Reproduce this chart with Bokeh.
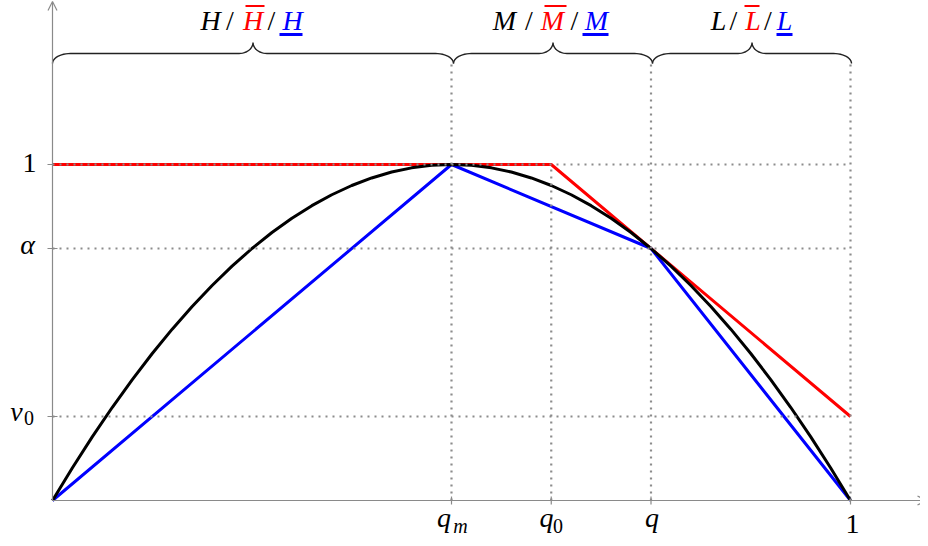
import math
from bokeh.plotting import figure
from bokeh.models import Range1d, Arrow, OpenHead
from bokeh.core.properties import value
from bokeh.embed import file_html
from bokeh.resources import INLINE

# ---- data ----
qm = 0.5      # q_m
q0 = 0.625    # q_0
q = 0.75      # q
alpha = 0.75  # alpha
v0 = 0.25     # v_0

curve_x = [0.000, 0.025, 0.050, 0.075, 0.100, 0.125, 0.150, 0.175, 0.200, 0.225,
           0.250, 0.275, 0.300, 0.325, 0.350, 0.375, 0.400, 0.425, 0.450, 0.475,
           0.500, 0.525, 0.550, 0.575, 0.600, 0.625, 0.650, 0.675, 0.700, 0.725,
           0.750, 0.775, 0.800, 0.825, 0.850, 0.875, 0.900, 0.925, 0.950, 0.975, 1.000]
curve_y = [0.000, 0.0975, 0.190, 0.2775, 0.360, 0.4375, 0.510, 0.5775, 0.640, 0.6975,
           0.750, 0.7975, 0.840, 0.8775, 0.910, 0.9375, 0.960, 0.9775, 0.990, 0.9975,
           1.000, 0.9975, 0.990, 0.9775, 0.960, 0.9375, 0.910, 0.8775, 0.840, 0.7975,
           0.750, 0.6975, 0.640, 0.5775, 0.510, 0.4375, 0.360, 0.2775, 0.190, 0.0975, 0.000]

red_x = [0.0, q0, 1.0]
red_y = [1.0, 1.0, v0]

blue_x = [0.0, qm, q, 1.0]
blue_y = [0.0, 1.0, alpha, 0.0]

# ---- page-pixel helpers (layout only) ----
def X(px):
    return (px - 52) / 798.0

def Y(py):
    return (500 - py) / 336.0

W, H = 920, 540
p = figure(width=W, height=H, output_backend="svg", toolbar_location=None,
           x_range=Range1d(X(0), X(W)), y_range=Range1d(Y(H), Y(0)),
           x_axis_location=None, y_axis_location=None,
           min_border=0, min_border_left=0, min_border_right=0,
           min_border_top=0, min_border_bottom=0)
p.outline_line_color = None
p.xgrid.visible = False
p.ygrid.visible = False
p.background_fill_color = "white"
p.border_fill_color = "white"

AX = "#8a8a8a"
FONT = value("serif")

# axes with arrows
p.add_layout(Arrow(end=OpenHead(size=9, line_color=AX, line_width=1.2),
                   x_start=0, y_start=0, x_end=X(926), y_end=0,
                   line_color=AX, line_width=1.2))
p.add_layout(Arrow(end=OpenHead(size=9, line_color=AX, line_width=1.2),
                   x_start=0, y_start=0, x_end=0, y_end=Y(1),
                   line_color=AX, line_width=1.2))

# tick marks
xt = [qm, q0, q, 1.0]
p.segment(x0=xt, y0=[Y(504)] * 4, x1=xt, y1=[Y(496)] * 4, line_color=AX, line_width=1.2)
yt = [1.0, alpha, v0]
p.segment(x0=[X(47)] * 3, y0=yt, x1=[X(57)] * 3, y1=yt, line_color=AX, line_width=1.2)

# curves
p.line(red_x, red_y, line_color="#ff0000", line_width=3)
p.line(blue_x, blue_y, line_color="#0000ff", line_width=3)
p.line(curve_x, curve_y, line_color="#000000", line_width=3)

# dotted guide lines
top = Y(63)
DOT = dict(line_color="#8c8c8c", line_width=2.2, line_dash="2 5")
p.segment(x0=[0, 0, 0], y0=[1.0, alpha, v0], x1=[1, 1, 1], y1=[1.0, alpha, v0], **DOT)
p.segment(x0=[qm, q0, q, 1.0], y0=[0, 0, 0, 0], x1=[qm, q0, q, 1.0], y1=[top, 1.0, top, top], **DOT)

# braces
def brace(xa, xb):
    xm = (xa + xb) / 2.0
    r1, r2 = 18.0, 14.0
    ye, yl, ytp = 63.0, 53.0, 42.0
    pts = []
    n = 12
    for i in range(n + 1):
        t = math.pi / 2 * i / n
        pts.append((xa + r1 * (1 - math.cos(t)), yl + (ye - yl) * (1 - math.sin(t))))
    for i in range(n + 1):
        t = math.pi / 2 * i / n
        pts.append((xm - r2 + r2 * math.sin(t), yl - (yl - ytp) * (1 - math.cos(t))))
    for i in range(n + 1):
        t = math.pi / 2 * i / n
        pts.append((xm + r2 * (1 - math.cos(t)), ytp + (yl - ytp) * math.sin(t)))
    for i in range(n + 1):
        t = math.pi / 2 * i / n
        pts.append((xb - r1 + r1 * math.sin(t), yl + (ye - yl) * (1 - math.cos(t))))
    return [X(a) for a, b in pts], [Y(b) for a, b in pts]

for a, b in [(52, 453), (453, 652), (652, 851)]:
    bx, by = brace(a, b)
    p.line(bx, by, line_color="#222222", line_width=1.4)

# text helper (baseline y given in page pixels; renderer draws ~0.4em low)
def txt(x, y, s, color="black", size=28, style="italic", align="center"):
    p.text(x=[X(x)], y=[Y(y - 0.4 * size)], text=[s], text_color=color, text_font=FONT,
           text_font_size=f"{size}px", text_font_style=style, text_align=align,
           text_baseline="alphabetic")

# brace labels
groups = [
    ("H", [(210, "H"), (229.5, "/"), (252.5, "H"), (271, "/"), (292, "H")], (245, 264), (279, 302)),
    ("M", [(504, "M"), (528.5, "/"), (552, "M"), (574, "/"), (596, "M")], (544, 566), (582, 608)),
    ("L", [(718, "L"), (733, "/"), (752.5, "L"), (767.5, "/"), (784, "L")], (744, 759), (776, 792)),
]
for name, pieces, over, under in groups:
    cols = ["black", "black", "#ff0000", "black", "#0000ff"]
    for (cx, s), c in zip(pieces, cols):
        txt(cx, 31, s, color=c, style="italic" if s != "/" else "normal")
    p.segment(x0=[X(over[0])], y0=[Y(5.5)], x1=[X(over[1])], y1=[Y(5.5)],
              line_color="#ff0000", line_width=1.8)
    p.segment(x0=[X(under[0])], y0=[Y(34)], x1=[X(under[1])], y1=[Y(34)],
              line_color="#0000ff", line_width=3)

# y tick labels
txt(29, 174, "1", style="normal")
txt(27, 255, "α")
txt(16, 422, "v")
txt(28.5, 425, "0", size=20, style="normal")

# x tick labels
txt(443.5, 528, "q")
txt(460, 533, "m", size=20)
txt(546, 528, "q")
txt(557.5, 533, "0", size=20, style="normal")
txt(651.5, 528, "q")
txt(852, 535, "1", style="normal")

open("out.html", "w").write(file_html(p, INLINE))
